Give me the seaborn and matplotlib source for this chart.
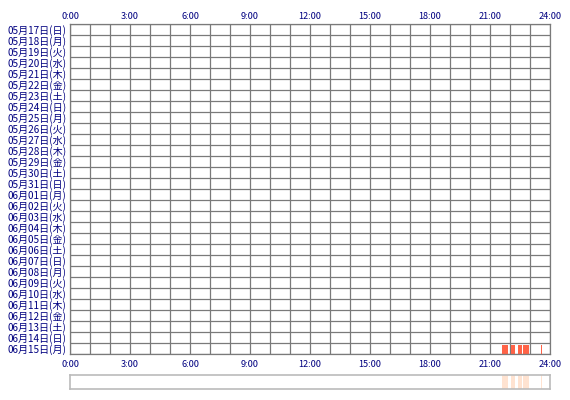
import matplotlib
matplotlib.use("Agg")
import matplotlib.pyplot as plt
import seaborn as sns
import pandas as pd

# ------------------------
# DATA
# ------------------------
day_labels = [
    "05月17日(日)", "05月18日(月)", "05月19日(火)", "05月20日(水)", "05月21日(木)",
    "05月22日(金)", "05月23日(土)", "05月24日(日)", "05月25日(月)", "05月26日(火)",
    "05月27日(水)", "05月28日(木)", "05月29日(金)", "05月30日(土)", "05月31日(日)",
    "06月01日(月)", "06月02日(火)", "06月03日(水)", "06月04日(木)", "06月05日(金)",
    "06月06日(土)", "06月07日(日)", "06月08日(月)", "06月09日(火)", "06月10日(水)",
    "06月11日(木)", "06月12日(金)", "06月13日(土)", "06月14日(日)", "06月15日(月)",
]
hour_ticks = [0, 3, 6, 9, 12, 15, 18, 21, 24]
hour_labels = ["0:00", "3:00", "6:00", "9:00", "12:00", "15:00", "18:00", "21:00", "24:00"]

# sleep segments (hours) on the last day
seg_day = ["06月15日(月)"] * 5
seg_start = [21.6, 22.05, 22.4, 22.65, 23.53]
seg_end = [21.9, 22.25, 22.6, 22.95, 23.6]

segments = pd.DataFrame({"day": seg_day, "start": seg_start, "end": seg_end})
segments["row"] = segments["day"].map({d: i for i, d in enumerate(day_labels)})

# ------------------------
# STYLE
# ------------------------
sns.set_style("white")
plt.rcParams["font.family"] = ["Noto Sans CJK JP", "DejaVu Sans"]

grid_color = "#7a7a7a"
label_color = "#000080"
bar_color = "#ff6347"
pale_color = "#ffe3d1"

fig = plt.figure(figsize=(5.7, 4.0), dpi=100)
ax = fig.add_axes([70 / 570, 46 / 400, 480 / 570, 330 / 400])

n_days = len(day_labels)
ax.set_xlim(0, 24)
ax.set_ylim(n_days, 0)

# grid cells
for h in range(25):
    ax.axvline(h, color=grid_color, lw=0.9, zorder=1)
for r in range(n_days + 1):
    ax.axhline(r, color=grid_color, lw=0.9, zorder=1)
for s in ax.spines.values():
    s.set_color(grid_color)
    s.set_linewidth(0.9)

# sleep bars
ax.barh(segments["row"] + 0.18, segments["end"] - segments["start"], left=segments["start"],
        height=0.82, align="edge", color=bar_color, linewidth=0, zorder=2)

ax.set_yticks([i + 0.5 for i in range(n_days)])
ax.set_yticklabels(day_labels, fontsize=7.2, color=label_color)
ax.tick_params(axis="y", length=0, pad=2.5)

# bottom hour labels
ax.set_xticks(hour_ticks)
ax.set_xticklabels(hour_labels, fontsize=6.6, color=label_color)
ax.tick_params(axis="x", length=0, pad=4.5)

# top hour labels
top = ax.twiny()
top.set_xlim(0, 24)
top.set_xticks(hour_ticks)
top.set_xticklabels(hour_labels, fontsize=6.6, color=label_color)
top.tick_params(axis="x", length=0, pad=2.5)
for s in top.spines.values():
    s.set_visible(False)

# overview strip
ax2 = fig.add_axes([70 / 570, 11 / 400, 480 / 570, 14 / 400])
ax2.set_xlim(0, 24)
ax2.set_ylim(0, 1)
ax2.barh(0.5, segments["end"] - segments["start"], left=segments["start"], height=1,
         color=pale_color, linewidth=0)
ax2.set_xticks([])
ax2.set_yticks([])
for s in ax2.spines.values():
    s.set_color("#bbbbbb")
    s.set_linewidth(1.2)

fig.savefig("out.png", dpi=100)
